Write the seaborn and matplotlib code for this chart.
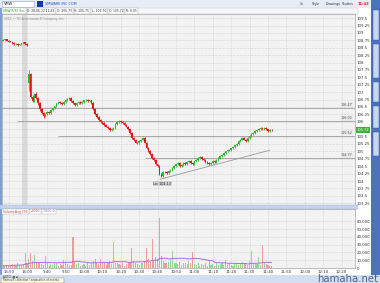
import numpy as np
import pandas as pd
import matplotlib
matplotlib.use("Agg")
import matplotlib.pyplot as plt
import seaborn as sns
from matplotlib.patches import Rectangle

# ---------------- data ----------------
# bar positions: 1-minute bars, 16:00 of previous day = 0, 9:30 = 1
day1_pos = list(range(-13, 1))
day2_pos = list(range(1, 134))

day1_open = [108.74, 108.76, 108.78, 108.74, 108.71, 108.70, 108.66, 108.62, 108.63, 108.60, 108.62, 108.65, 108.68, 108.64]
day1_close = [108.76, 108.78, 108.74, 108.71, 108.70, 108.66, 108.62, 108.63, 108.60, 108.62, 108.65, 108.68, 108.64, 108.60]
day1_high = [108.79, 108.80, 108.79, 108.76, 108.73, 108.71, 108.68, 108.66, 108.65, 108.64, 108.67, 108.70, 108.69, 108.66]
day1_low = [108.72, 108.74, 108.72, 108.69, 108.68, 108.64, 108.60, 108.60, 108.57, 108.58, 108.60, 108.63, 108.61, 108.56]

day2_open = [107.30, 107.62, 106.85, 106.70, 106.95, 106.80, 106.62, 106.42, 106.30, 106.18,
             106.25, 106.33, 106.28, 106.40, 106.46, 106.52, 106.62, 106.68, 106.64, 106.60,
             106.66, 106.74, 106.78, 106.80, 106.70, 106.62, 106.58, 106.64, 106.66, 106.62,
             106.68, 106.72, 106.74, 106.70, 106.72, 106.63, 106.42, 106.25, 106.15, 106.06,
             106.00, 105.96, 105.90, 105.84, 105.78, 105.72, 105.76, 105.80, 105.92, 106.00,
             106.02, 105.98, 105.96, 105.90, 105.84, 105.74, 105.62, 105.45, 105.38, 105.30,
             105.28, 105.36, 105.40, 105.46, 105.30, 105.12, 105.02, 104.92, 104.78, 104.70,
             104.56, 104.50, 104.24, 104.18, 104.32, 104.30, 104.26, 104.34, 104.38, 104.44,
             104.50, 104.56, 104.60, 104.52, 104.55, 104.60, 104.58, 104.64, 104.68, 104.62,
             104.58, 104.66, 104.72, 104.78, 104.80, 104.74, 104.70, 104.64, 104.62, 104.58,
             104.62, 104.68, 104.64, 104.72, 104.78, 104.84, 104.88, 104.95, 105.00, 105.04,
             105.06, 105.10, 105.16, 105.20, 105.26, 105.34, 105.40, 105.45, 105.40, 105.36,
             105.44, 105.52, 105.58, 105.62, 105.68, 105.72, 105.76, 105.80, 105.74, 105.78,
             105.74, 105.70, 105.73]
day2_close = [107.62, 106.85, 106.70, 106.95, 106.80, 106.62, 106.42, 106.30, 106.18, 106.25,
              106.33, 106.28, 106.40, 106.46, 106.52, 106.62, 106.68, 106.64, 106.60, 106.66,
              106.74, 106.78, 106.80, 106.70, 106.62, 106.58, 106.64, 106.66, 106.62, 106.68,
              106.72, 106.74, 106.70, 106.72, 106.63, 106.42, 106.25, 106.15, 106.06, 106.00,
              105.96, 105.90, 105.84, 105.78, 105.72, 105.76, 105.80, 105.92, 106.00, 106.02,
              105.98, 105.96, 105.90, 105.84, 105.74, 105.62, 105.45, 105.38, 105.30, 105.28,
              105.36, 105.40, 105.46, 105.30, 105.12, 105.02, 104.92, 104.78, 104.70, 104.56,
              104.50, 104.24, 104.18, 104.32, 104.30, 104.26, 104.34, 104.38, 104.44, 104.50,
              104.56, 104.60, 104.52, 104.55, 104.60, 104.58, 104.64, 104.68, 104.62, 104.58,
              104.66, 104.72, 104.78, 104.80, 104.74, 104.70, 104.64, 104.62, 104.58, 104.62,
              104.68, 104.64, 104.72, 104.78, 104.84, 104.88, 104.95, 105.00, 105.04, 105.06,
              105.10, 105.16, 105.20, 105.26, 105.34, 105.40, 105.45, 105.40, 105.36, 105.44,
              105.52, 105.58, 105.62, 105.68, 105.72, 105.76, 105.80, 105.74, 105.78, 105.74,
              105.70, 105.73, 105.72]
day2_high = [107.75, 107.64, 106.92, 106.98, 106.99, 106.84, 106.66, 106.46, 106.34, 106.29,
             106.37, 106.36, 106.43, 106.49, 106.55, 106.65, 106.71, 106.71, 106.67, 106.69,
             106.77, 106.81, 106.84, 106.83, 106.73, 106.65, 106.67, 106.69, 106.69, 106.71,
             106.75, 106.77, 106.77, 106.75, 106.74, 106.66, 106.45, 106.28, 106.18, 106.09,
             106.03, 105.99, 105.93, 105.87, 105.81, 105.79, 105.83, 105.95, 106.03, 106.06,
             106.05, 106.01, 105.98, 105.93, 105.87, 105.77, 105.65, 105.48, 105.41, 105.33,
             105.39, 105.43, 105.50, 105.49, 105.33, 105.15, 105.05, 104.95, 104.81, 104.73,
             104.59, 104.53, 104.28, 104.35, 104.35, 104.33, 104.37, 104.41, 104.47, 104.53,
             104.59, 104.63, 104.63, 104.58, 104.63, 104.63, 104.67, 104.71, 104.71, 104.65,
             104.69, 104.75, 104.81, 104.83, 104.83, 104.77, 104.73, 104.67, 104.65, 104.65,
             104.71, 104.71, 104.75, 104.81, 104.87, 104.91, 104.98, 105.03, 105.07, 105.09,
             105.13, 105.19, 105.23, 105.29, 105.37, 105.43, 105.48, 105.48, 105.43, 105.47,
             105.55, 105.61, 105.65, 105.71, 105.75, 105.79, 105.83, 105.83, 105.81, 105.81,
             105.77, 105.76, 105.75]
day2_low = [107.05, 106.82, 106.66, 106.66, 106.77, 106.58, 106.38, 106.27, 106.14, 106.15,
            106.22, 106.25, 106.25, 106.37, 106.43, 106.49, 106.59, 106.61, 106.57, 106.57,
            106.63, 106.71, 106.75, 106.67, 106.59, 106.55, 106.55, 106.61, 106.59, 106.59,
            106.65, 106.69, 106.67, 106.67, 106.60, 106.39, 106.22, 106.12, 106.03, 105.97,
            105.93, 105.87, 105.81, 105.75, 105.69, 105.69, 105.73, 105.77, 105.89, 105.97,
            105.95, 105.93, 105.87, 105.81, 105.71, 105.59, 105.42, 105.35, 105.27, 105.25,
            105.25, 105.33, 105.37, 105.27, 105.09, 104.99, 104.89, 104.75, 104.67, 104.53,
            104.47, 104.21, 104.13, 104.15, 104.27, 104.23, 104.23, 104.31, 104.35, 104.41,
            104.47, 104.53, 104.49, 104.49, 104.52, 104.55, 104.55, 104.61, 104.59, 104.55,
            104.55, 104.63, 104.69, 104.75, 104.71, 104.67, 104.61, 104.59, 104.55, 104.55,
            104.59, 104.61, 104.61, 104.69, 104.75, 104.81, 104.85, 104.92, 104.97, 105.01,
            105.03, 105.07, 105.13, 105.17, 105.23, 105.31, 105.37, 105.37, 105.33, 105.33,
            105.41, 105.49, 105.55, 105.59, 105.65, 105.69, 105.73, 105.71, 105.71, 105.71,
            105.67, 105.67, 105.70]

day1_volume = [3000, 2500, 4000, 2000, 3500, 5000, 4500, 3000, 6000, 4000, 3500, 5500, 19000, 7000]
day2_volume = [12000, 19000, 9000, 17000, 8000, 6000, 7000, 5000, 4000, 15000,
               6000, 3000, 5000, 4000, 7000, 6000, 3000, 5000, 4000, 10000,
               6000, 5000, 3000, 4000, 40000, 8000, 5000, 6000, 3000, 4000,
               5000, 3000, 6000, 4000, 7000, 9000, 12000, 6000, 5000, 12000,
               7000, 6000, 4000, 8000, 9000, 5000, 33000, 7000, 6000, 5000,
               4000, 6000, 3000, 5000, 7000, 8000, 26000, 9000, 6000, 5000,
               4000, 7000, 6000, 9000, 26000, 11000, 8000, 38000, 9000, 14000,
               12000, 64000, 16000, 9000, 7000, 6000, 8000, 10000, 22000, 7000,
               6000, 5000, 8000, 4000, 6000, 7000, 5000, 9000, 6000, 20000,
               5000, 4000, 6000, 3000, 5000, 4000, 6000, 3000, 10000, 4000,
               5000, 3000, 6000, 4000, 5000, 7000, 4000, 10000, 5000, 6000,
               4000, 3000, 5000, 6000, 4000, 7000, 8000, 6000, 5000, 4000,
               9000, 22000, 7000, 6000, 5000, 14000, 4000, 30000, 6000, 5000,
               4000, 3000, 2000]

time_tick_pos = [-10, 0, 11, 21, 31, 41, 51, 61, 71, 81, 91, 101, 111, 121, 131, 141, 151, 161, 171]
time_tick_labels = ["15:50", "16:00", "9:40", "9:50", "10:00", "10:10", "10:20", "10:30", "10:40",
                    "10:50", "11:00", "11:10", "11:20", "11:30", "11:40", "11:50", "12:00", "12:10", "12:20"]
price_ticks = [103.25, 103.5, 103.75, 104.0, 104.25, 104.5, 104.75, 105.0, 105.25, 105.5, 105.75,
               106.0, 106.25, 106.5, 106.75, 107.0, 107.25, 107.5, 107.75, 108.0, 108.25, 108.5,
               108.75, 109.0, 109.25, 109.5]
volume_ticks = [0, 10000, 20000, 30000, 40000, 50000, 60000]

level_prices = [106.47, 106.02, 105.52, 104.77]
level_start_pos = [-13.6, -5.4, 16.8, 64.0]
trend_pos = [72.3, 132.0]
trend_price = [104.06, 105.04]
session_break = [-2.6, 0.0]

info_labels = ["VMW R/30 Sec", "D: 28.06.12 11:43", "O: 105.73", "H: 105.75", "L: 105.70",
               "C: 105.72", "R: 0.05"]

# ---------------- frame ----------------
sns.set_theme(style="white")
plt.rcParams["font.family"] = ["DejaVu Sans"]

W, H = 380, 283
fig = plt.figure(figsize=(3.8, 2.83), dpi=100)
fig.patch.set_facecolor("white")


def ax_px(x0, y0, x1, y1):
    return fig.add_axes([x0 / W, 1 - y1 / H, (x1 - x0) / W, (y1 - y0) / H])


def rect(x0, y0, x1, y1, fc, ec="none", lw=0.0, z=0):
    fig.patches.append(Rectangle((x0 / W, 1 - y1 / H), (x1 - x0) / W, (y1 - y0) / H,
                                 transform=fig.transFigure, facecolor=fc, edgecolor=ec,
                                 linewidth=lw, zorder=z))


def ftext(x, y, s, **kw):
    return fig.text(x / W, 1 - y / H, s, **kw)


def text_row(x, y, items, gap=2.5, **kw):
    """Place boxed texts one after another without overlapping."""
    renderer = fig.canvas.get_renderer()
    for s, c in items:
        t = ftext(x, y, s, color=c, va="center", **kw)
        bb = t.get_window_extent(renderer=renderer)
        x += bb.width + gap


df = pd.DataFrame({
    "pos": day1_pos + day2_pos,
    "open": day1_open + day2_open,
    "close": day1_close + day2_close,
    "high": day1_high + day2_high,
    "low": day1_low + day2_low,
    "volume": day1_volume + day2_volume,
})
df["dir"] = np.where(df["close"] >= df["open"], "up", "down")
df["vavg"] = df["volume"].rolling(30, min_periods=1).mean()

UP, DOWN = "#2fb52f", "#e81515"
VUP, VDOWN = "#98d398", "#ef9c9c"
xlim = (-13.6, 178.3)
box = dict(boxstyle="square,pad=0.25", fc="white", ec="#b0b0b0", lw=0.3)

# header / chrome
rect(0, 0, 380, 8, "#e6edf7")
rect(2, 1, 34, 6.5, "white", ec="#8aa0c0", lw=0.4)
ftext(4, 3.9, "VMW", fontsize=2.6, color="#222", va="center")
rect(37, 1, 43, 6.5, "#1538a8")
ftext(45, 3.9, "VMWARE INC COM", fontsize=2.4, color="#2050c0", va="center")
for xx, s in [(300, "1x"), (312, "Style"), (326, "Drawings"), (342, "Studies")]:
    ftext(xx, 3.9, s, fontsize=2.3, color="#333", va="center")
ftext(358, 3.9, "11:43", fontsize=2.6, color="#e02020", va="center", weight="bold")
rect(0, 8, 358, 14, "#f6f6f6", ec="#b8c4d4", lw=0.3)
info_colors = ["#20a020"] + ["#333"] * (len(info_labels) - 1)
text_row(3, 11.2, list(zip(info_labels, info_colors)), fontsize=2.2, bbox=box)
rect(0, 8, 1.6, 275, "#7d9fd3")
rect(371, 0, 380, 283, "#4b73b9")
for y0, y1 in [(10, 40), (44, 78), (82, 102), (106, 128), (132, 156)]:
    rect(372.5, y0, 378.5, y1, "#c9d7ec", ec="#2c4f90", lw=0.3)
rect(0, 205, 358, 209, "#c4d4ea", ec="#9fb4d4", lw=0.3)
rect(0, 275, 380, 283, "#d3dfef")
rect(1, 277.5, 64, 283, "#ffffe1", ec="#808080", lw=0.3)
ftext(3, 276.3, "AUTO  \u25a3 \u25aa", fontsize=2.0, color="#333", va="center")
ftext(3, 280.3, "Remove collection / separation of events", fontsize=2.0, color="#333", va="center")
ftext(378, 283.5, "hamaha.net", fontsize=7.3, color="#49638f", ha="right", va="bottom")

# ---------------- price panel ----------------
ax = ax_px(2, 14, 355, 205)
ax.set_facecolor("#f2f2f2")
ax.set_xlim(*xlim)
ax.set_ylim(103.19, 109.64)
ax.axvspan(session_break[0], session_break[1], color="#d9d9d9", lw=0, zorder=0)

colors = np.where(df["dir"] == "up", UP, DOWN)
ax.vlines(df["pos"], df["low"], df["high"], colors=colors, lw=0.6, zorder=3)
body = (df["close"] - df["open"]).abs().clip(lower=0.015)
ax.bar(df["pos"], body, bottom=df[["open", "close"]].min(axis=1), width=0.85,
       color=colors, lw=0, zorder=4)

for lv, st in zip(level_prices, level_start_pos):
    ax.hlines(lv, st, xlim[1], colors="#a8a8a8", lw=0.7, zorder=2)
    ax.text(xlim[1] - 1.2, lv + 0.035, f"{lv:.2f}", fontsize=2.4, color="#555",
            ha="right", va="bottom", zorder=5,
            bbox=dict(boxstyle="square,pad=0.15", fc="#e8e8e8", ec="none"))
ax.plot(trend_pos, trend_price, color="#9a9a9a", lw=0.6, zorder=2)

low_i = df["low"].idxmin()
ax.text(df.loc[low_i, "pos"] + 0.5, df.loc[low_i, "low"] - 0.15, f"Lo: {df.loc[low_i, 'low']:.2f}",
        fontsize=2.4, color="#222", ha="center", va="top",
        bbox=dict(boxstyle="square,pad=0.2", fc="#cfcfcf", ec="none"))

last = df["close"].iloc[-1]
ax.text(1.005, (last - 103.19) / (109.64 - 103.19), f"{last:.2f}", transform=ax.transAxes,
        fontsize=2.6, color="white", ha="left", va="center", clip_on=False,
        bbox=dict(boxstyle="square,pad=0.25", fc="#35b535", ec="none"))
ax.text(0.005, 0.985, "2012 \u00a9 TD Ameritrade IP Company, Inc.", transform=ax.transAxes,
        fontsize=2.2, color="#888", ha="left", va="top")

ax.set_yticks(price_ticks)
ax.set_yticklabels([f"{v:g}" for v in price_ticks])
ax.set_xticks(time_tick_pos)
ax.yaxis.tick_right()
ax.tick_params(axis="y", length=0, labelsize=2.8, pad=1.2, labelcolor="#333")
ax.tick_params(axis="x", length=0, labelbottom=False)
ax.grid(True, ls=(0, (1, 1.5)), lw=0.4, color="#bdbdbd")
for s in ax.spines.values():
    s.set_color("#a0a0a0")
    s.set_linewidth(0.5)

# ---------------- volume panel ----------------
axv = ax_px(2, 209, 355, 268)
axv.set_facecolor("#f2f2f2")
sns.barplot(data=df, x="pos", y="volume", hue="dir", palette={"up": VUP, "down": VDOWN},
            native_scale=True, dodge=False, width=0.6, errorbar=None, saturation=1,
            linewidth=0, legend=False, ax=axv, zorder=3)
sns.lineplot(data=df, x="pos", y="vavg", color="#b46ad6", lw=0.7, ax=axv, zorder=4)
axv.set_xlim(*xlim)
axv.set_ylim(0, 76000)
axv.set_yticks(volume_ticks)
axv.set_yticklabels([f"{v:,}" for v in volume_ticks])
axv.set_xticks(time_tick_pos)
axv.set_xticklabels(time_tick_labels)
axv.yaxis.tick_right()
axv.tick_params(axis="y", length=0, labelsize=2.8, pad=1.2, labelcolor="#333")
axv.tick_params(axis="x", length=0, labelsize=2.8, pad=1.2, labelcolor="#333")
axv.set_xlabel("")
axv.set_ylabel("")
axv.grid(True, ls=(0, (1, 1.5)), lw=0.4, color="#bdbdbd")
for s in axv.spines.values():
    s.set_color("#a0a0a0")
    s.set_linewidth(0.5)

vlast = df["volume"].iloc[-1]
vav = df["vavg"].iloc[-1]
text_row(3, 211.5, [("VolumeAvg (30)", "#d04545"), (f"{vlast:,}", "#d04545"),
                    (f"{vav:,.1f}", "#a060c8")], fontsize=2.3,
         bbox=dict(boxstyle="square,pad=0.2", fc="white", ec="#b0b0b0", lw=0.3))

fig.savefig("out.png", dpi=100, facecolor=fig.get_facecolor())
